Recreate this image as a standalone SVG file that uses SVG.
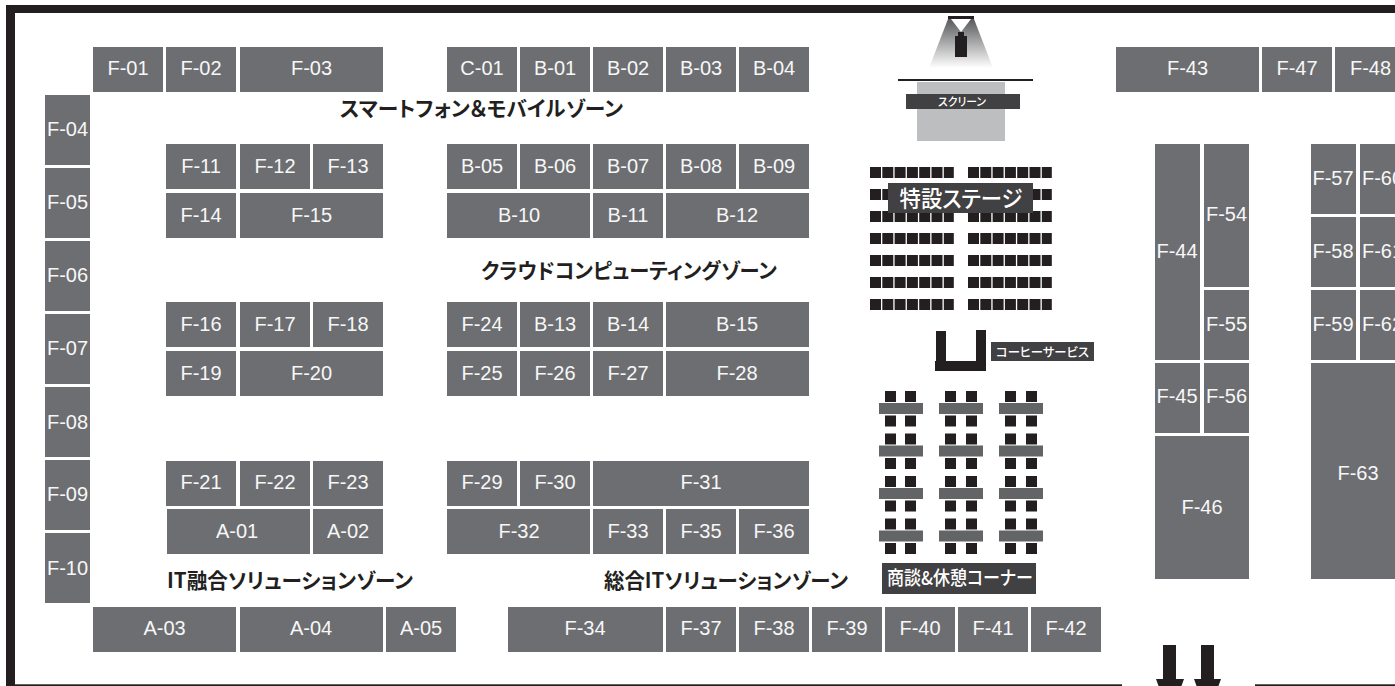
<svg xmlns="http://www.w3.org/2000/svg" xmlns:xlink="http://www.w3.org/1999/xlink" width="1395" height="686" viewBox="0 0 1395 686">
<style>
.b{fill:#6d6e71}
.t{font-family:"Liberation Sans",Arial,sans-serif;font-size:20px;fill:#f7f7f7;text-anchor:middle}
.k{fill:#231f20}
.l{fill:#414042}
.z{font-family:"Noto Sans CJK JP",sans-serif;font-weight:700;font-size:21px;fill:#231f20;font-feature-settings:"palt"}
.w{font-family:"Noto Sans CJK JP",sans-serif;font-weight:500;fill:#fff;font-feature-settings:"palt"}
.tb{fill:#636466}
</style>
<defs>
<linearGradient id="beam" x1="0" y1="0" x2="0" y2="1"><stop offset="0" stop-color="#58595b"/><stop offset="1" stop-color="#fff"/></linearGradient>
<g id="seatgroup" class="k"><rect x="0" width="11" height="11"/><rect x="12.3" width="11" height="11"/><rect x="24.6" width="11" height="11"/><rect x="36.9" width="11" height="11"/><rect x="49.2" width="11" height="11"/><rect x="61.5" width="11" height="11"/><rect x="73.8" width="10" height="11"/></g>
<g id="seatrow"><use xlink:href="#seatgroup" href="#seatgroup" x="870"/><use xlink:href="#seatgroup" href="#seatgroup" x="968"/></g>
<g id="tableset"><rect class="tb" x="0" y="12" width="44" height="11"/><rect class="k" x="6" y="0" width="11" height="11"/><rect class="k" x="26" y="0" width="11" height="11"/><rect class="k" x="6" y="24.500" width="11" height="11"/><rect class="k" x="26" y="24.500" width="11" height="11"/></g>
<g id="tableset2"><rect class="tb" x="0" y="12" width="44" height="11"/><rect class="k" x="6" y="0" width="11" height="11"/><rect class="k" x="27" y="0" width="11" height="11"/><rect class="k" x="6" y="24.500" width="11" height="11"/><rect class="k" x="27" y="24.500" width="11" height="11"/></g>
</defs>
<rect width="1395" height="686" fill="#fff"/>
<g id="frame" class="k">
<rect x="6" y="5" width="1389" height="8"/><rect x="6" y="5" width="9" height="681"/>
<rect x="15" y="684.300" width="1107" height="1.700"/><rect x="1255" y="684.300" width="140" height="1.700"/>
</g>
<g id="F-01"><rect class="b" x="93" y="47" width="70" height="45"/><text class="t" x="128" y="75">F-01</text></g>
<g id="F-02"><rect class="b" x="166" y="47" width="70" height="45"/><text class="t" x="201" y="75">F-02</text></g>
<g id="F-03"><rect class="b" x="240" y="47" width="143" height="45"/><text class="t" x="311.500" y="75">F-03</text></g>
<g id="C-01"><rect class="b" x="447" y="47" width="70" height="45"/><text class="t" x="482" y="75">C-01</text></g>
<g id="B-01"><rect class="b" x="520" y="47" width="70" height="45"/><text class="t" x="555" y="75">B-01</text></g>
<g id="B-02"><rect class="b" x="593" y="47" width="70" height="45"/><text class="t" x="628" y="75">B-02</text></g>
<g id="B-03"><rect class="b" x="666" y="47" width="70" height="45"/><text class="t" x="701" y="75">B-03</text></g>
<g id="B-04"><rect class="b" x="739" y="47" width="70" height="45"/><text class="t" x="774" y="75">B-04</text></g>
<g id="F-04"><rect class="b" x="45" y="95" width="45" height="70"/><text class="t" x="67.500" y="136">F-04</text></g>
<g id="F-05"><rect class="b" x="45" y="168" width="45" height="70"/><text class="t" x="67.500" y="209">F-05</text></g>
<g id="F-06"><rect class="b" x="45" y="241" width="45" height="70"/><text class="t" x="67.500" y="282">F-06</text></g>
<g id="F-07"><rect class="b" x="45" y="314" width="45" height="70"/><text class="t" x="67.500" y="355">F-07</text></g>
<g id="F-08"><rect class="b" x="45" y="387" width="45" height="70"/><text class="t" x="67.500" y="428.500">F-08</text></g>
<g id="F-09"><rect class="b" x="45" y="460" width="45" height="70"/><text class="t" x="67.500" y="501">F-09</text></g>
<g id="F-10"><rect class="b" x="45" y="533" width="45" height="70"/><text class="t" x="67.500" y="575">F-10</text></g>
<g id="F-11"><rect class="b" x="166" y="144" width="70" height="45"/><text class="t" x="201" y="173">F-11</text></g>
<g id="F-12"><rect class="b" x="240" y="144" width="70" height="45"/><text class="t" x="275" y="173">F-12</text></g>
<g id="F-13"><rect class="b" x="313" y="144" width="70" height="45"/><text class="t" x="348" y="173">F-13</text></g>
<g id="F-14"><rect class="b" x="166" y="193" width="70" height="45"/><text class="t" x="201" y="221.500">F-14</text></g>
<g id="F-15"><rect class="b" x="240" y="193" width="143" height="45"/><text class="t" x="311.500" y="221.500">F-15</text></g>
<g id="F-16"><rect class="b" x="166" y="302" width="70" height="45"/><text class="t" x="201" y="331">F-16</text></g>
<g id="F-17"><rect class="b" x="240" y="302" width="70" height="45"/><text class="t" x="275" y="331">F-17</text></g>
<g id="F-18"><rect class="b" x="313" y="302" width="70" height="45"/><text class="t" x="348" y="331">F-18</text></g>
<g id="F-19"><rect class="b" x="166" y="351" width="70" height="45"/><text class="t" x="201" y="380">F-19</text></g>
<g id="F-20"><rect class="b" x="240" y="351" width="143" height="45"/><text class="t" x="311.500" y="380">F-20</text></g>
<g id="F-21"><rect class="b" x="166" y="461" width="70" height="45"/><text class="t" x="201" y="489">F-21</text></g>
<g id="F-22"><rect class="b" x="240" y="461" width="70" height="45"/><text class="t" x="275" y="489">F-22</text></g>
<g id="F-23"><rect class="b" x="313" y="461" width="70" height="45"/><text class="t" x="348" y="489">F-23</text></g>
<g id="A-01"><rect class="b" x="167" y="509" width="143" height="45"/><text class="t" x="237" y="538">A-01</text></g>
<g id="A-02"><rect class="b" x="313" y="509" width="70" height="45"/><text class="t" x="348" y="538">A-02</text></g>
<g id="A-03"><rect class="b" x="93" y="607" width="143" height="45"/><text class="t" x="164.500" y="635">A-03</text></g>
<g id="A-04"><rect class="b" x="240" y="607" width="143" height="45"/><text class="t" x="311" y="635">A-04</text></g>
<g id="A-05"><rect class="b" x="386" y="607" width="70" height="45"/><text class="t" x="421" y="635">A-05</text></g>
<g id="B-05"><rect class="b" x="447" y="144" width="70" height="45"/><text class="t" x="482" y="173">B-05</text></g>
<g id="B-06"><rect class="b" x="520" y="144" width="70" height="45"/><text class="t" x="555" y="173">B-06</text></g>
<g id="B-07"><rect class="b" x="593" y="144" width="70" height="45"/><text class="t" x="628" y="173">B-07</text></g>
<g id="B-08"><rect class="b" x="666" y="144" width="70" height="45"/><text class="t" x="701" y="173">B-08</text></g>
<g id="B-09"><rect class="b" x="739" y="144" width="70" height="45"/><text class="t" x="774" y="173">B-09</text></g>
<g id="B-10"><rect class="b" x="447" y="193" width="143" height="45"/><text class="t" x="519" y="221.500">B-10</text></g>
<g id="B-11"><rect class="b" x="593" y="193" width="70" height="45"/><text class="t" x="628" y="221.500">B-11</text></g>
<g id="B-12"><rect class="b" x="666" y="193" width="143" height="45"/><text class="t" x="737" y="221.500">B-12</text></g>
<g id="F-24"><rect class="b" x="447" y="302" width="70" height="45"/><text class="t" x="482" y="331">F-24</text></g>
<g id="B-13"><rect class="b" x="520" y="302" width="70" height="45"/><text class="t" x="555" y="331">B-13</text></g>
<g id="B-14"><rect class="b" x="593" y="302" width="70" height="45"/><text class="t" x="628" y="331">B-14</text></g>
<g id="B-15"><rect class="b" x="666" y="302" width="143" height="45"/><text class="t" x="737" y="331">B-15</text></g>
<g id="F-25"><rect class="b" x="447" y="351" width="70" height="45"/><text class="t" x="482" y="380">F-25</text></g>
<g id="F-26"><rect class="b" x="520" y="351" width="70" height="45"/><text class="t" x="555" y="380">F-26</text></g>
<g id="F-27"><rect class="b" x="593" y="351" width="70" height="45"/><text class="t" x="628" y="380">F-27</text></g>
<g id="F-28"><rect class="b" x="666" y="351" width="143" height="45"/><text class="t" x="737" y="380">F-28</text></g>
<g id="F-29"><rect class="b" x="447" y="461" width="70" height="45"/><text class="t" x="482" y="489">F-29</text></g>
<g id="F-30"><rect class="b" x="520" y="461" width="70" height="45"/><text class="t" x="555" y="489">F-30</text></g>
<g id="F-31"><rect class="b" x="593" y="461" width="216" height="45"/><text class="t" x="701" y="489">F-31</text></g>
<g id="F-32"><rect class="b" x="447" y="509" width="143" height="45"/><text class="t" x="519" y="538">F-32</text></g>
<g id="F-33"><rect class="b" x="593" y="509" width="70" height="45"/><text class="t" x="628" y="538">F-33</text></g>
<g id="F-35"><rect class="b" x="666" y="509" width="70" height="45"/><text class="t" x="701" y="538">F-35</text></g>
<g id="F-36"><rect class="b" x="739" y="509" width="70" height="45"/><text class="t" x="774" y="538">F-36</text></g>
<g id="F-34"><rect class="b" x="508" y="607" width="155" height="45"/><text class="t" x="585" y="635">F-34</text></g>
<g id="F-37"><rect class="b" x="666" y="607" width="70" height="45"/><text class="t" x="701" y="635">F-37</text></g>
<g id="F-38"><rect class="b" x="739" y="607" width="70" height="45"/><text class="t" x="774" y="635">F-38</text></g>
<g id="F-39"><rect class="b" x="812" y="607" width="70" height="45"/><text class="t" x="847" y="635">F-39</text></g>
<g id="F-40"><rect class="b" x="885" y="607" width="70" height="45"/><text class="t" x="920" y="635">F-40</text></g>
<g id="F-41"><rect class="b" x="958" y="607" width="70" height="45"/><text class="t" x="993" y="635">F-41</text></g>
<g id="F-42"><rect class="b" x="1031" y="607" width="70" height="45"/><text class="t" x="1066" y="635">F-42</text></g>
<g id="F-43"><rect class="b" x="1116" y="47" width="143" height="45"/><text class="t" x="1187.500" y="75">F-43</text></g>
<g id="F-47"><rect class="b" x="1262" y="47" width="70" height="45"/><text class="t" x="1297" y="75">F-47</text></g>
<g id="F-48"><rect class="b" x="1335" y="47" width="60" height="45"/><text class="t" x="1370.500" y="75">F-48</text></g>
<g id="F-44"><rect class="b" x="1155" y="144" width="45" height="216"/><text class="t" x="1177" y="258">F-44</text></g>
<g id="F-54"><rect class="b" x="1204" y="144" width="45" height="143"/><text class="t" x="1226.500" y="221">F-54</text></g>
<g id="F-55"><rect class="b" x="1204" y="290" width="45" height="70"/><text class="t" x="1226.500" y="331">F-55</text></g>
<g id="F-45"><rect class="b" x="1155" y="363" width="45" height="70"/><text class="t" x="1177" y="403">F-45</text></g>
<g id="F-56"><rect class="b" x="1204" y="363" width="45" height="70"/><text class="t" x="1226.500" y="403">F-56</text></g>
<g id="F-46"><rect class="b" x="1155" y="436" width="94" height="143"/><text class="t" x="1202" y="514">F-46</text></g>
<g id="F-57"><rect class="b" x="1311" y="144" width="45" height="70"/><text class="t" x="1333" y="185">F-57</text></g>
<g id="F-60"><rect class="b" x="1360" y="144" width="35" height="70"/><text class="t" x="1382.500" y="185">F-60</text></g>
<g id="F-58"><rect class="b" x="1311" y="217" width="45" height="70"/><text class="t" x="1333" y="258">F-58</text></g>
<g id="F-61"><rect class="b" x="1360" y="217" width="35" height="70"/><text class="t" x="1382.500" y="258">F-61</text></g>
<g id="F-59"><rect class="b" x="1311" y="290" width="45" height="70"/><text class="t" x="1333" y="331">F-59</text></g>
<g id="F-62"><rect class="b" x="1360" y="290" width="35" height="70"/><text class="t" x="1382.500" y="331">F-62</text></g>
<g id="F-63"><rect class="b" x="1311" y="363" width="84" height="216"/><text class="t" x="1358" y="480">F-63</text></g>
<g id="zones">
<text class="z" x="340" y="116" textLength="283" lengthAdjust="spacingAndGlyphs">スマートフォン＆モバイルゾーン</text>
<text class="z" x="481" y="278" textLength="296" lengthAdjust="spacingAndGlyphs">クラウドコンピューティングゾーン</text>
<text class="z" x="167" y="587.500" textLength="246" lengthAdjust="spacingAndGlyphs">IT融合ソリューションゾーン</text>
<text class="z" x="604" y="587.500" textLength="244" lengthAdjust="spacingAndGlyphs">総合ITソリューションゾーン</text>
</g>
<g id="projector">
<polygon points="948,19 974,19 993,68 929,68" fill="url(#beam)"/>
<polygon points="951,19 971,19 961,32" fill="#fff"/>
<rect class="k" x="948" y="16" width="26" height="3"/>
<rect class="k" x="958" y="32" width="6" height="5"/>
<rect class="k" x="955" y="36" width="12" height="21"/>
</g>
<g id="screen">
<rect class="k" x="898" y="79" width="135" height="2"/>
<rect x="917" y="82" width="88" height="59" fill="#bcbec0"/>
<rect class="l" x="906" y="94" width="114" height="15"/>
<text class="w" x="938" y="106" font-size="11.500" textLength="48" lengthAdjust="spacingAndGlyphs">スクリーン</text>
</g>
<g id="seats">
<use xlink:href="#seatrow" href="#seatrow" y="167"/><use xlink:href="#seatrow" href="#seatrow" y="189"/><use xlink:href="#seatrow" href="#seatrow" y="211"/><use xlink:href="#seatrow" href="#seatrow" y="233"/><use xlink:href="#seatrow" href="#seatrow" y="255"/><use xlink:href="#seatrow" href="#seatrow" y="277"/><use xlink:href="#seatrow" href="#seatrow" y="299"/>
</g>
<g id="stage">
<rect class="l" x="888" y="183" width="145" height="30"/>
<text class="w" x="899.500" y="207" font-size="23" textLength="123" lengthAdjust="spacingAndGlyphs">特設ステージ</text>
</g>
<g id="coffee">
<path class="k" d="M936,331H946V361H976V330H986V371H935V361H936Z"/>
<rect class="l" x="991" y="342" width="103" height="19"/>
<text class="w" x="996" y="356.500" font-size="12.500" textLength="93" lengthAdjust="spacingAndGlyphs">コーヒーサービス</text>
</g>
<g id="lounge">
<use xlink:href="#tableset" href="#tableset" x="879" y="391"/><use xlink:href="#tableset2" href="#tableset2" x="939" y="391"/><use xlink:href="#tableset2" href="#tableset2" x="999" y="391"/>
<use xlink:href="#tableset" href="#tableset" x="879" y="433.500"/><use xlink:href="#tableset2" href="#tableset2" x="939" y="433.500"/><use xlink:href="#tableset2" href="#tableset2" x="999" y="433.500"/>
<use xlink:href="#tableset" href="#tableset" x="879" y="476"/><use xlink:href="#tableset2" href="#tableset2" x="939" y="476"/><use xlink:href="#tableset2" href="#tableset2" x="999" y="476"/>
<use xlink:href="#tableset" href="#tableset" x="879" y="518.500"/><use xlink:href="#tableset2" href="#tableset2" x="939" y="518.500"/><use xlink:href="#tableset2" href="#tableset2" x="999" y="518.500"/>
<rect class="l" x="882" y="563" width="154" height="31"/>
<text class="w" x="887" y="585" font-size="19" textLength="146" lengthAdjust="spacingAndGlyphs">商談&amp;休憩コーナー</text>
</g>
<g id="entrance" class="k">
<polygon points="1163,645 1176,645 1176,679 1184,679 1180,690 1160,690 1156,679 1163,679"/>
<polygon points="1201,645 1214,645 1214,679 1221,679 1217,690 1198,690 1194,679 1201,679"/>
</g>
</svg>
